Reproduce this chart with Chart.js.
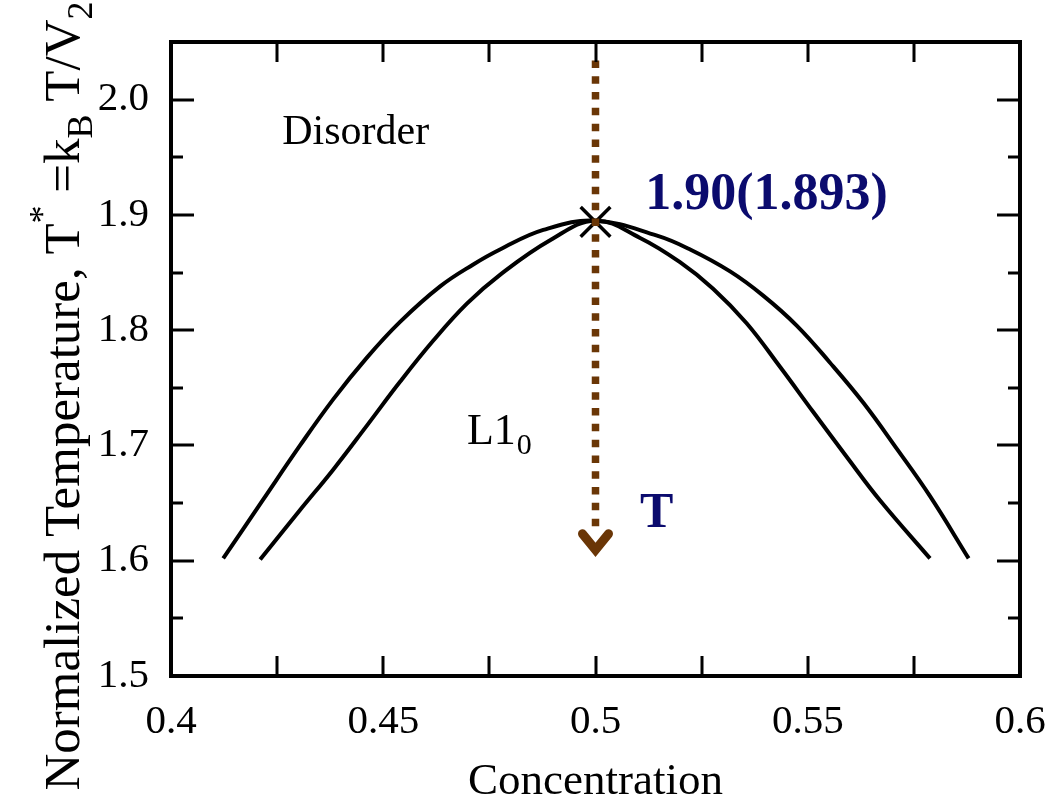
<!DOCTYPE html>
<html><head><meta charset="utf-8">
<script src="https://cdn.jsdelivr.net/npm/chart.js@4.4.0/dist/chart.umd.min.js"></script>
<style>html,body{margin:0;padding:0;background:#fff;}#wrap{width:1051px;height:811px;}</style>
</head><body><div id="wrap"><canvas id="c" width="1051" height="811"></canvas></div>
<script>
// ---- data ----
const xTickValues = [0.4, 0.45, 0.5, 0.55, 0.6];
const xTickLabels = ["0.4", "0.45", "0.5", "0.55", "0.6"];
const yTickValues = [1.5, 1.6, 1.7, 1.8, 1.9, 2.0];
const yTickLabels = ["1.5", "1.6", "1.7", "1.8", "1.9", "2.0"];

const outerX = [0.4123, 0.4217, 0.4304, 0.4382, 0.4461, 0.4539, 0.4634, 0.4712, 0.4775, 0.4877, 0.5, 0.5145, 0.5223, 0.5317, 0.5395, 0.5474, 0.5552, 0.5631, 0.5710, 0.5788, 0.5879];
const outerT = [1.602, 1.653, 1.700, 1.740, 1.776, 1.807, 1.838, 1.857, 1.870, 1.887, 1.895, 1.882, 1.870, 1.851, 1.830, 1.804, 1.772, 1.737, 1.697, 1.656, 1.602];

const innerX = [0.4210, 0.4304, 0.4382, 0.4461, 0.4539, 0.4618, 0.4697, 0.4775, 0.4893, 0.5, 0.5105, 0.5199, 0.5277, 0.5356, 0.5435, 0.5513, 0.5592, 0.5671, 0.5788];
const innerT = [1.601, 1.644, 1.679, 1.717, 1.755, 1.791, 1.823, 1.848, 1.878, 1.895, 1.880, 1.859, 1.836, 1.806, 1.768, 1.729, 1.690, 1.652, 1.602];

const criticalPoint = {x: 0.5, t: 1.894};
const arrowX = [0.5, 0.5];
const arrowT = [2.034, 1.627];
const arrowTipT = 1.606;

const toPts = (xs, ys) => xs.map((x, i) => ({x: x, y: ys[i]}));

const SERIF = '"Liberation Serif","Times New Roman",serif';
const NAVY = '#0b0b6e';
const BROWN = '#6a3606';

// ---- decoration plugin (frame, inward ticks, annotations) ----
const deco = {
  id: 'deco',
  afterDatasetsDraw(chart) {
    const ctx = chart.ctx, a = chart.chartArea;
    const xs = chart.scales.x, ys = chart.scales.y;
    ctx.save();
    // frame
    ctx.strokeStyle = '#000'; ctx.lineWidth = 4; ctx.lineCap = 'square';
    ctx.strokeRect(a.left, a.top, a.right - a.left, a.bottom - a.top);
    // x ticks every 0.025 (inward, top & bottom)
    ctx.lineWidth = 3; ctx.lineCap = 'butt';
    for (let i = 1; i < 8; i++) {
      const v = 0.4 + i * 0.025;
      const px = Math.round(xs.getPixelForValue(v));
      ctx.beginPath();
      ctx.moveTo(px, a.bottom); ctx.lineTo(px, a.bottom - 20);
      ctx.moveTo(px, a.top); ctx.lineTo(px, a.top + 20);
      ctx.stroke();
    }
    // y ticks: major 0.1, minor 0.05
    for (let i = 1; i < 11; i++) {
      const v = 1.5 + i * 0.05;
      const py = Math.round(ys.getPixelForValue(v));
      const len = (i % 2 === 0) ? 23 : 12;
      ctx.beginPath();
      ctx.moveTo(a.left, py); ctx.lineTo(a.left + len, py);
      ctx.moveTo(a.right, py); ctx.lineTo(a.right - len, py);
      ctx.stroke();
    }
    // arrowhead
    const ax = xs.getPixelForValue(0.5), ay = ys.getPixelForValue(arrowTipT);
    ctx.strokeStyle = BROWN; ctx.lineWidth = 9; ctx.lineJoin = 'miter'; ctx.lineCap = 'round';
    ctx.beginPath();
    ctx.moveTo(ax - 13, ay - 20); ctx.lineTo(ax, ay - 4); ctx.lineTo(ax + 13, ay - 20);
    ctx.stroke();
    // annotations
    ctx.textBaseline = 'alphabetic'; ctx.textAlign = 'left';
    ctx.fillStyle = '#000';
    ctx.font = '42px ' + SERIF;
    ctx.fillText('Disorder', xs.getPixelForValue(0.4262), ys.getPixelForValue(1.9617));
    const lx = xs.getPixelForValue(0.4697), ly = ys.getPixelForValue(1.7009);
    ctx.font = '44px ' + SERIF;
    ctx.fillText('L1', lx, ly);
    const lw = ctx.measureText('L1').width;
    ctx.font = '30px ' + SERIF;
    ctx.fillText('0', lx + lw + 1, ly + 10);
    ctx.fillStyle = NAVY;
    ctx.font = 'bold 52px ' + SERIF;
    ctx.fillText('1.90(1.893)', xs.getPixelForValue(0.5117), ys.getPixelForValue(1.9055));
    ctx.font = 'bold 50px ' + SERIF;
    ctx.fillText('T', xs.getPixelForValue(0.5105), ys.getPixelForValue(1.629));
    // y-axis title with super/subscripts
    ctx.fillStyle = '#000';
    const segs = [
      {t: 'Normalized Temperature, T', s: 51, dy: 0},
      {t: '*', s: 36, dy: -25},
      {t: ' =k', s: 51, dy: 0},
      {t: 'B', s: 36, dy: 13},
      {t: ' T/V', s: 51, dy: 0},
      {t: '2', s: 36, dy: 13}
    ];
    let total = 0;
    segs.forEach(g => { ctx.font = g.s + 'px ' + SERIF; g.w = ctx.measureText(g.t).width; total += g.w; });
    ctx.translate(79, 396);
    ctx.rotate(-Math.PI / 2);
    let cx = -total / 2;
    segs.forEach(g => { ctx.font = g.s + 'px ' + SERIF; ctx.fillText(g.t, cx, g.dy); cx += g.w; });
    ctx.restore();
  }
};

new Chart(document.getElementById('c'), {
  type: 'scatter',
  data: {
    datasets: [
      {data: toPts(arrowX, arrowT), showLine: true, borderColor: BROWN, borderWidth: 7.5,
       borderDash: [7.5, 8.3], borderCapStyle: 'butt', pointRadius: 0, order: 0},
      {data: [{x: criticalPoint.x, y: criticalPoint.t}], pointStyle: 'crossRot', pointRadius: 21,
       borderColor: '#000', backgroundColor: '#000', pointBorderWidth: 3.5, order: 1},
      {data: toPts(outerX, outerT), showLine: true, borderColor: '#000', borderWidth: 4,
       pointRadius: 0, tension: 0.4, order: 2},
      {data: toPts(innerX, innerT), showLine: true, borderColor: '#000', borderWidth: 4,
       pointRadius: 0, tension: 0.4, order: 2}
    ]
  },
  options: {
    responsive: false, animation: false,
    layout: {padding: {left: 0, right: 31, top: 42, bottom: 0}},
    plugins: {legend: {display: false}, tooltip: {enabled: false}},
    scales: {
      x: {
        type: 'linear', min: 0.4, max: 0.6,
        grid: {display: false, drawTicks: false}, border: {display: false},
        afterBuildTicks: s => { s.ticks = xTickValues.map(v => ({value: v})); },
        afterFit: s => { s.height = 135; s.paddingLeft = 0; s.paddingRight = 0; },
        ticks: {padding: 22, color: '#000', font: {family: SERIF, size: 41},
                callback: (v) => { const i = xTickValues.findIndex(t => Math.abs(t - v) < 1e-9); return i >= 0 ? xTickLabels[i] : ''; }},
        title: {display: true, text: 'Concentration', color: '#000', font: {family: SERIF, size: 45},
                padding: {top: 0, bottom: 2}}
      },
      y: {
        type: 'linear', min: 1.5, max: 2.05,
        grid: {display: false, drawTicks: false}, border: {display: false},
        afterBuildTicks: s => { s.ticks = yTickValues.map(v => ({value: v})); },
        afterFit: s => { s.width = 171; s.paddingTop = 0; s.paddingBottom = 0; },
        ticks: {padding: 22, color: '#000', font: {family: SERIF, size: 41},
                callback: (v) => { const i = yTickValues.findIndex(t => Math.abs(t - v) < 1e-9); return i >= 0 ? yTickLabels[i] : ''; }}
      }
    }
  },
  plugins: [deco]
});
</script>
</body></html>
